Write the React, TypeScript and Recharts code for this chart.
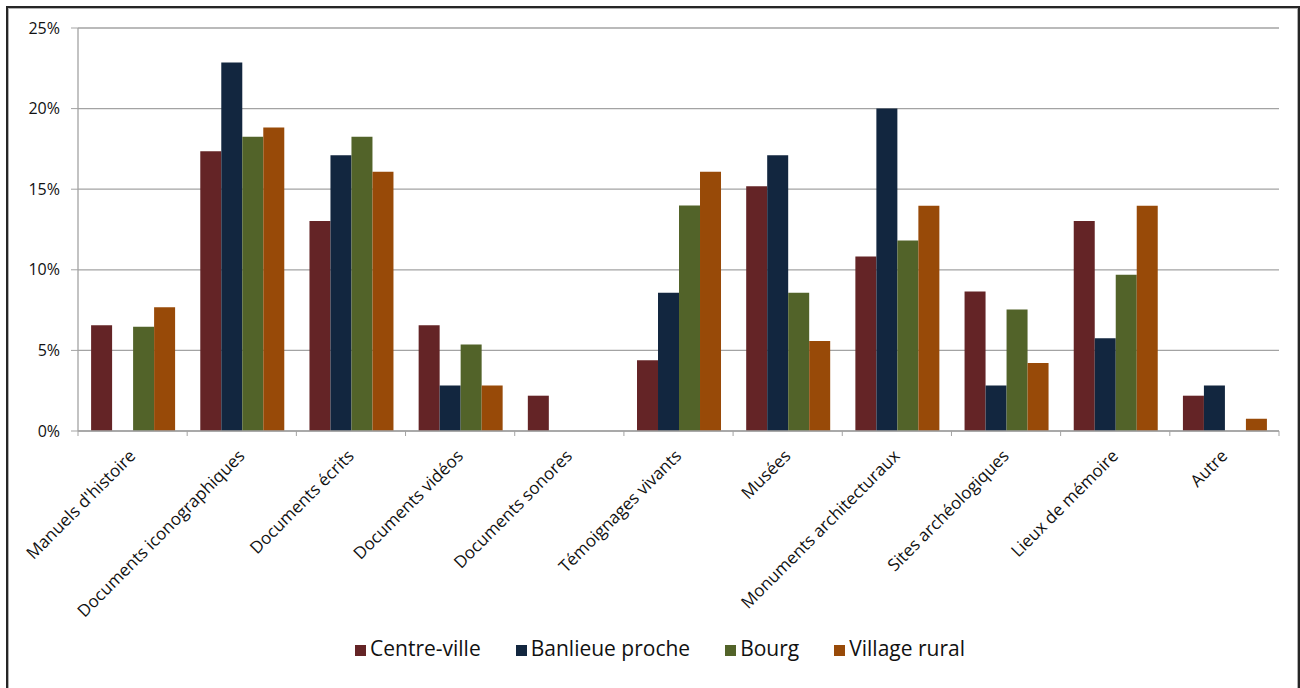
import { BarChart, Bar, CartesianGrid, XAxis, YAxis, Legend } from "recharts";

const categories = [
  "Manuels d'histoire",
  "Documents iconographiques",
  "Documents écrits",
  "Documents vidéos",
  "Documents sonores",
  "Témoignages vivants",
  "Musées",
  "Monuments architecturaux",
  "Sites archéologiques",
  "Lieux de mémoire",
  "Autre",
];

// parts en %
const centreVille = [6.56, 17.36, 13.02, 6.56, 2.19, 4.39, 15.19, 10.82, 8.65, 13.02, 2.19];
const banlieueProche = [0, 22.86, 17.11, 2.83, 0, 8.57, 17.11, 20.0, 2.83, 5.75, 2.83];
const bourg = [6.47, 18.25, 18.25, 5.36, 0, 13.99, 8.57, 11.81, 7.53, 9.7, 0];
const villageRural = [7.68, 18.83, 16.08, 2.83, 0, 16.08, 5.59, 13.97, 4.22, 13.97, 0.76];

const yTicks = [0, 5, 10, 15, 20, 25];

const series = [
  { key: "centreVille", name: "Centre-ville", color: "#642426" },
  { key: "banlieueProche", name: "Banlieue proche", color: "#12263f" },
  { key: "bourg", name: "Bourg", color: "#526329" },
  { key: "villageRural", name: "Village rural", color: "#984a08" },
];

const data = categories.map((cat, i) => ({
  cat,
  centreVille: centreVille[i],
  banlieueProche: banlieueProche[i],
  bourg: bourg[i],
  villageRural: villageRural[i],
}));

const AXIS_GRAY = "#a3a3a3";
const TICK_SIZE = 5;
const TICK_MARGIN = 21;

// label en diagonale + petits traits entre les catégories
function CategoryTick(props: any) {
  const { x, y, payload, index, visibleTicksCount } = props;
  const half = payload?.offset ?? 0;
  const axisY = y - TICK_SIZE - TICK_MARGIN;
  const isLast = index === visibleTicksCount - 1;
  return (
    <g>
      <line x1={x - half} x2={x - half} y1={axisY} y2={axisY + TICK_SIZE} stroke={AXIS_GRAY} />
      {isLast && (
        <line x1={x + half} x2={x + half} y1={axisY} y2={axisY + TICK_SIZE} stroke={AXIS_GRAY} />
      )}
      <g transform={`translate(${x + 4},${y})`}>
        <text transform="rotate(-45)" textAnchor="end" fontSize={17} fill="#111">
          {payload.value}
        </text>
      </g>
    </g>
  );
}

export default function App() {
  return (
    <div
      style={{
        position: "absolute",
        left: 0,
        top: 0,
        width: 1300,
        height: 688,
        overflow: "hidden",
        background: "#fff",
        fontFamily: "'Open Sans', sans-serif",
      }}
    >
      <div
        style={{
          position: "absolute",
          left: 6,
          top: 6,
          width: 1294,
          height: 720,
          boxSizing: "border-box",
          border: "2px solid #262626",
          boxShadow: "inset 1px 1px 0 #b0b0b0, inset -1px 0 0 #b0b0b0",
        }}
      />
      <BarChart
        width={1300}
        height={688}
        data={data}
        margin={{ top: 28, right: 21, left: 0, bottom: 26 }}
        barCategoryGap="12%"
        barGap={0}
        style={{ position: "absolute", left: 0, top: 0 }}
      >
        <CartesianGrid vertical={false} stroke={AXIS_GRAY} strokeWidth={1.3} />
        <XAxis
          dataKey="cat"
          interval={0}
          height={203}
          tickLine={false}
          tickSize={TICK_SIZE}
          tickMargin={TICK_MARGIN}
          axisLine={{ stroke: AXIS_GRAY, strokeWidth: 1.3 }}
          tick={<CategoryTick />}
        />
        <YAxis
          width={78}
          domain={[0, 25]}
          ticks={yTicks}
          interval={0}
          tickFormatter={(v) => `${v}%`}
          tickSize={7}
          tickMargin={11}
          axisLine={{ stroke: AXIS_GRAY, strokeWidth: 1.3 }}
          tickLine={{ stroke: AXIS_GRAY }}
          tick={{ fontSize: 16, fill: "#111" }}
        />
        <Legend
          verticalAlign="bottom"
          iconType="square"
          iconSize={11}
          itemSorter={null}
          wrapperStyle={{ fontSize: 21, paddingLeft: 38 }}
          formatter={(value) => (
            <span style={{ color: "#111", marginRight: 25 }}>{value}</span>
          )}
        />
        {series.map((s) => (
          <Bar
            key={s.key}
            dataKey={s.key}
            name={s.name}
            fill={s.color}
            isAnimationActive={false}
          />
        ))}
      </BarChart>
    </div>
  );
}
